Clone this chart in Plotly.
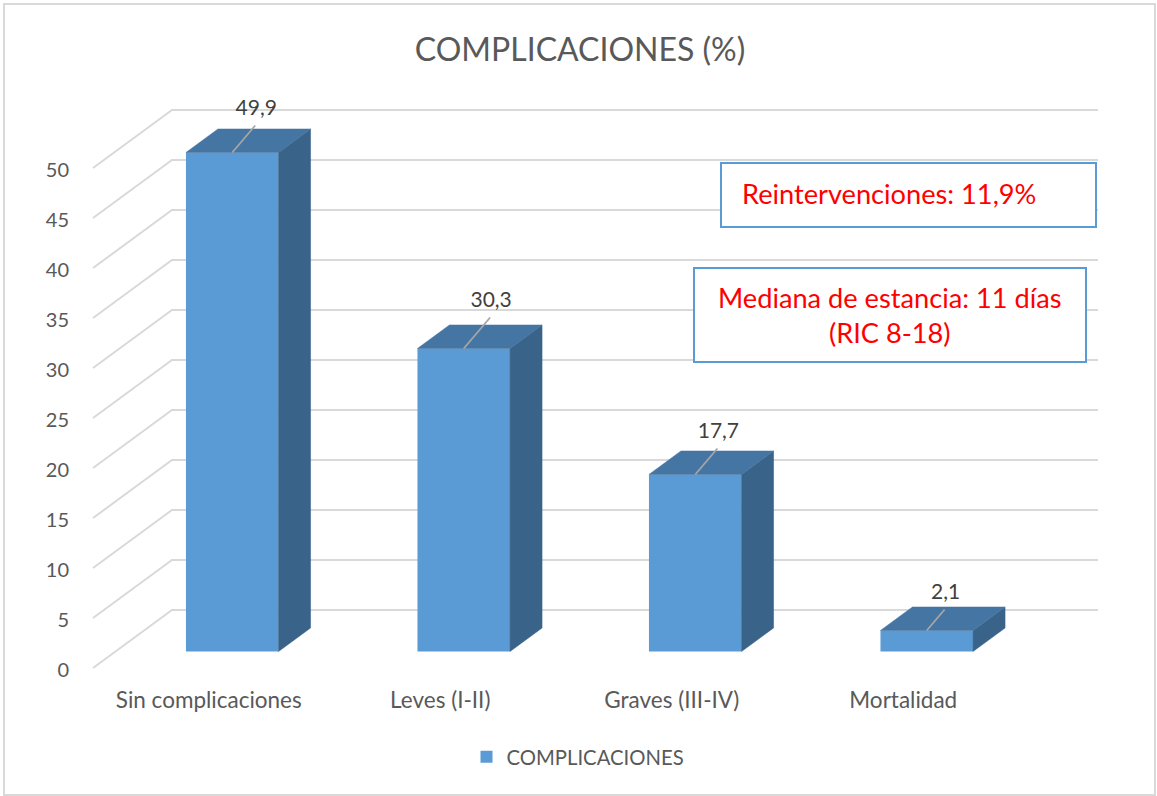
import plotly.graph_objects as go

# ---- data ----
categories = ["Sin complicaciones", "Leves (I-II)", "Graves (III-IV)", "Mortalidad"]
values = [49.9, 30.3, 17.7, 2.1]
value_labels = ["49,9", "30,3", "17,7", "2,1"]
y_ticks = [0, 5, 10, 15, 20, 25, 30, 35, 40, 45, 50]
series_name = "COMPLICACIONES"
title_text = "COMPLICACIONES (%)"
note_1 = "Reintervenciones: 11,9%"
note_2 = "Mediana de estancia: 11 días<br>(RIC 8-18)"
label_lift = [4.5, 4.9, 4.4, 3.9]   # hand-placed data labels, in value units

# ---- canvas and oblique projection ----
W, H = 1157, 796
FLOOR_L, FLOOR_R, Y50, Y0 = 93, 1019, 168, 668   # front plane of the chart, pixels
PX_CAT = (FLOOR_R - FLOOR_L) / 4
PX_VAL = (Y0 - Y50) / 50
WALL_DX, WALL_DY = 79 / PX_CAT, 58 / PX_VAL   # full depth of the floor
BAR_D0, BAR_D1 = 0.285, 0.69                  # bar depth span, fraction of floor
BAR_SHIFT = 1 / PX_CAT                        # bars sit a pixel right of the projection
BAR_W = 0.40
FONT = "Lato"
GREY = "#595959"
FRONT, TOP, SIDE = "#5B9BD5", "#4575A3", "#396388"

# axes fill the whole canvas, so nothing is clipped
xrange_ = [-0.5 - FLOOR_L / PX_CAT, -0.5 + (W - FLOOR_L) / PX_CAT]
yrange_ = [-(H - Y0) / PX_VAL, Y0 / PX_VAL]


def proj(cat, val, depth):
    return cat + WALL_DX * depth, val + WALL_DY * depth


def px(x, y):
    return dict(x=x / W, y=1 - y / H)


fig = go.Figure()

# walls: grid lines on the base axes, so they stay behind the bars
for t in y_ticks:
    x0, y0 = proj(-0.5, t, 0)
    x1, y1 = proj(-0.5, t, 1)
    x2, y2 = proj(3.5, t, 1)
    fig.add_trace(go.Scatter(x=[x0, x1, x2], y=[y0, y1, y2], mode="lines",
                             line=dict(color="#D9D9D9", width=2),
                             showlegend=False, hoverinfo="skip"))

# front faces
fx, base = proj(BAR_SHIFT, 0, BAR_D0)
fig.add_trace(go.Bar(x=[i + fx for i in range(4)], y=values, base=base, width=BAR_W,
                     name=series_name, marker=dict(color=FRONT, line=dict(width=0)),
                     xaxis="x2", yaxis="y2"))


def poly(xs, ys, color):
    fig.add_trace(go.Scatter(x=xs + xs[:1], y=ys + ys[:1], mode="lines", fill="toself",
                             fillcolor=color, line=dict(color=color, width=0.5),
                             showlegend=False, hoverinfo="skip",
                             xaxis="x2", yaxis="y2"))


# side and top faces, leaders, labels
for i, v in enumerate(values):
    xl, xr = i + BAR_SHIFT - BAR_W / 2, i + BAR_SHIFT + BAR_W / 2
    pts = {
        "fl": proj(xl, v, BAR_D0), "fr": proj(xr, v, BAR_D0),
        "bl": proj(xl, v, BAR_D1), "br": proj(xr, v, BAR_D1),
        "f0": proj(xr, 0, BAR_D0), "b0": proj(xr, 0, BAR_D1),
    }
    poly([pts[k][0] for k in ("fr", "br", "b0", "f0")],
         [pts[k][1] for k in ("fr", "br", "b0", "f0")], SIDE)
    poly([pts[k][0] for k in ("fl", "bl", "br", "fr")],
         [pts[k][1] for k in ("fl", "bl", "br", "fr")], TOP)

    cx, cy = proj(i + BAR_SHIFT, v, BAR_D0)
    leader = label_lift[i] - 1.8
    ex = cx + 0.85 * leader * PX_VAL / PX_CAT
    fig.add_trace(go.Scatter(x=[cx, ex], y=[cy, cy + leader], mode="lines",
                             line=dict(color="#A6A6A6", width=1.8),
                             showlegend=False, hoverinfo="skip",
                             xaxis="x2", yaxis="y2"))
    fig.add_trace(go.Scatter(x=[ex + 1 / PX_CAT], y=[cy + label_lift[i] - 0.2], mode="text",
                             text=[value_labels[i]], textposition="middle center",
                             textfont=dict(family=FONT, size=21, color="#404040"),
                             showlegend=False, hoverinfo="skip",
                             xaxis="x2", yaxis="y2"))

fig.update_layout(
    width=W, height=H, autosize=False,
    margin=dict(l=0, r=0, t=0, b=0, pad=0),
    paper_bgcolor="white", plot_bgcolor="rgba(0,0,0,0)",
    barmode="overlay",
    font=dict(family=FONT, color=GREY),
    title=dict(text=title_text, x=580 / W, y=1 - 50 / H, xanchor="center", yanchor="middle",
               font=dict(family=FONT, size=32, color=GREY)),
    xaxis=dict(range=xrange_, domain=[0, 1], anchor="free", position=1 - Y0 / H,
               tickmode="array", tickvals=list(range(4)), ticktext=categories,
               showgrid=False, zeroline=False, showline=False,
               ticks="outside", ticklen=12, tickcolor="rgba(0,0,0,0)",
               tickfont=dict(family=FONT, size=22.5, color=GREY), automargin=False),
    yaxis=dict(range=yrange_, domain=[0, 1], anchor="free", position=FLOOR_L / W,
               tickmode="array", tickvals=y_ticks,
               showgrid=False, zeroline=False, showline=False,
               ticks="outside", ticklen=20, tickcolor="rgba(0,0,0,0)", ticklabelshift=2,
               tickfont=dict(family=FONT, size=20, color=GREY), automargin=False),
    xaxis2=dict(range=xrange_, overlaying="x", matches="x", visible=False),
    yaxis2=dict(range=yrange_, overlaying="y", matches="y", visible=False),
    showlegend=True,
    legend=dict(orientation="h", x=578 / W, xanchor="center", y=1 - 757 / H, yanchor="middle",
                font=dict(family=FONT, size=20.3, color=GREY), bgcolor="rgba(0,0,0,0)",
                itemsizing="constant"),
)

# notes and outer frame
BLUE = "#5B9BD5"


def box(x0, y0, x1, y1, line, width, fill, layer="above"):
    a, b = px(x0, y0), px(x1, y1)
    fig.add_shape(type="rect", xref="paper", yref="paper", x0=a["x"], y0=a["y"], x1=b["x"], y1=b["y"],
                  line=dict(color=line, width=width), fillcolor=fill, layer=layer)


box(4, 4, 1155, 795, "#D9D9D9", 2, "rgba(0,0,0,0)", "below")
box(721, 163, 1096, 227, BLUE, 2, "white")
box(694, 268, 1086, 362, BLUE, 2, "white")


def note(text, xc, yc):
    p = px(xc, yc)
    fig.add_annotation(text=text, xref="paper", yref="paper", x=p["x"], y=p["y"],
                       xanchor="center", yanchor="middle", showarrow=False, align="center",
                       font=dict(family=FONT, size=27.2, color="#FF0000"))


note(note_1, 888.5, 193)
note(note_2, 890, 315)

fig.write_html("out.html", config=dict(displayModeBar=False),
               post_script="document.body.style.margin='0';")
